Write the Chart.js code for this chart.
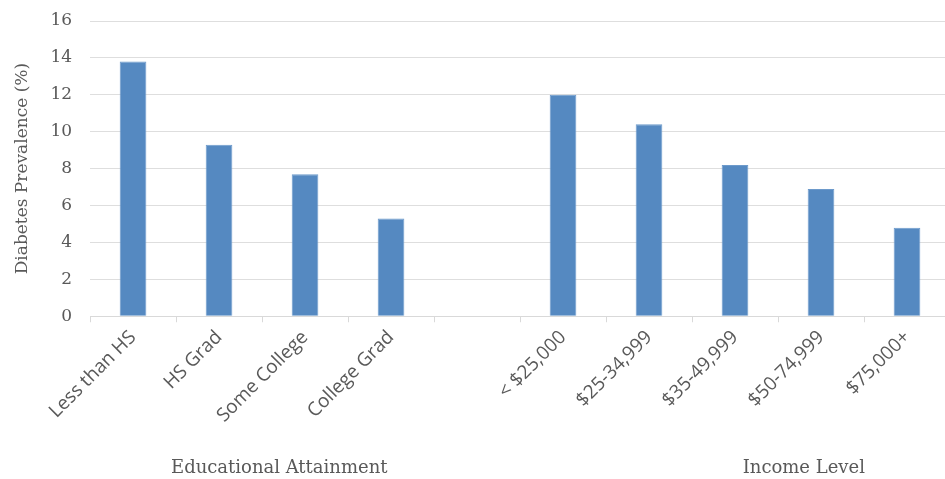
<!DOCTYPE html>
<html>
<head>
<meta charset="utf-8">
<script src="https://cdn.jsdelivr.net/npm/chart.js@4.4.1/dist/chart.umd.min.js"></script>
<style>
  html, body { margin: 0; padding: 0; background: #fff; overflow: hidden; }
  #wrap { position: relative; width: 952px; height: 479px; }
</style>
</head>
<body>
<div id="wrap"><canvas id="prevChart"></canvas></div>
<script>
// Diabetes prevalence by education and income group
const educationLabels = ['Less than HS', 'HS Grad', 'Some College', 'College Grad'];
const incomeLabels = ['< $25,000', '$25-34,999', '$35-49,999', '$50-74,999', '$75,000+'];
const educationValues = [13.8, 9.3, 7.7, 5.3];
const incomeValues = [12.0, 10.4, 8.2, 6.9, 4.8];
const yTicks = [0, 2, 4, 6, 8, 10, 12, 14, 16];

// one blank slot separates the two groups
const labels = [...educationLabels, '', ...incomeLabels];
const values = [...educationValues, null, ...incomeValues];

const textGrey = '#595959';

// group captions under the rotated category labels
const groupCaptions = {
    id: 'groupCaptions',
    afterDraw(chart) {
        const ctx = chart.ctx;
        const x = chart.scales.x;
        ctx.save();
        ctx.fillStyle = textGrey;
        ctx.font = '18px "DejaVu Serif"';
        ctx.textAlign = 'center';
        ctx.textBaseline = 'middle';
        ctx.fillText('Educational Attainment', x.getPixelForValue(1.7), 468);
        ctx.fillText('Income Level', x.getPixelForValue(7.8), 468);
        ctx.restore();
    }
};

const ctx = document.getElementById('prevChart').getContext('2d');
new Chart(ctx, {
    type: 'bar',
    data: {
        labels: labels,
        datasets: [{
            data: values,
            backgroundColor: '#5589c1',
            borderColor: '#6d9acb',
            borderWidth: 1,
            barPercentage: 0.31,
            categoryPercentage: 1.0
        }]
    },
    options: {
        responsive: true,
        maintainAspectRatio: false,
        animation: false,
        layout: { padding: { top: 21, right: 2, bottom: 48, left: 12 } },
        plugins: {
            legend: { display: false },
            tooltip: { enabled: false }
        },
        scales: {
            x: {
                grid: {
                    offset: true,
                    drawOnChartArea: false,
                    drawTicks: true,
                    tickLength: 6,
                    color: '#d9d9d9'
                },
                border: { color: '#d9d9d9', width: 1 },
                ticks: {
                    color: textGrey,
                    font: { family: 'Open Sans', size: 19 },
                    minRotation: 45,
                    maxRotation: 45,
                    autoSkip: false,
                    padding: 4
                }
            },
            y: {
                min: 0,
                max: 16,
                afterBuildTicks(axis) {
                    axis.ticks = yTicks.map(v => ({ value: v }));
                },
                grid: {
                    color: '#dedede',
                    lineWidth: 1,
                    drawTicks: true,
                    tickLength: 16,
                    tickColor: 'rgba(0,0,0,0)'
                },
                border: { display: false },
                ticks: {
                    color: textGrey,
                    font: { family: 'DejaVu Serif', size: 17 },
                    padding: 2
                },
                title: {
                    display: true,
                    text: 'Diabetes Prevalence (%)',
                    color: textGrey,
                    font: { family: 'DejaVu Serif', size: 17 },
                    padding: { top: 0, bottom: 16 }
                }
            }
        }
    },
    plugins: [groupCaptions]
});
</script>
</body>
</html>
